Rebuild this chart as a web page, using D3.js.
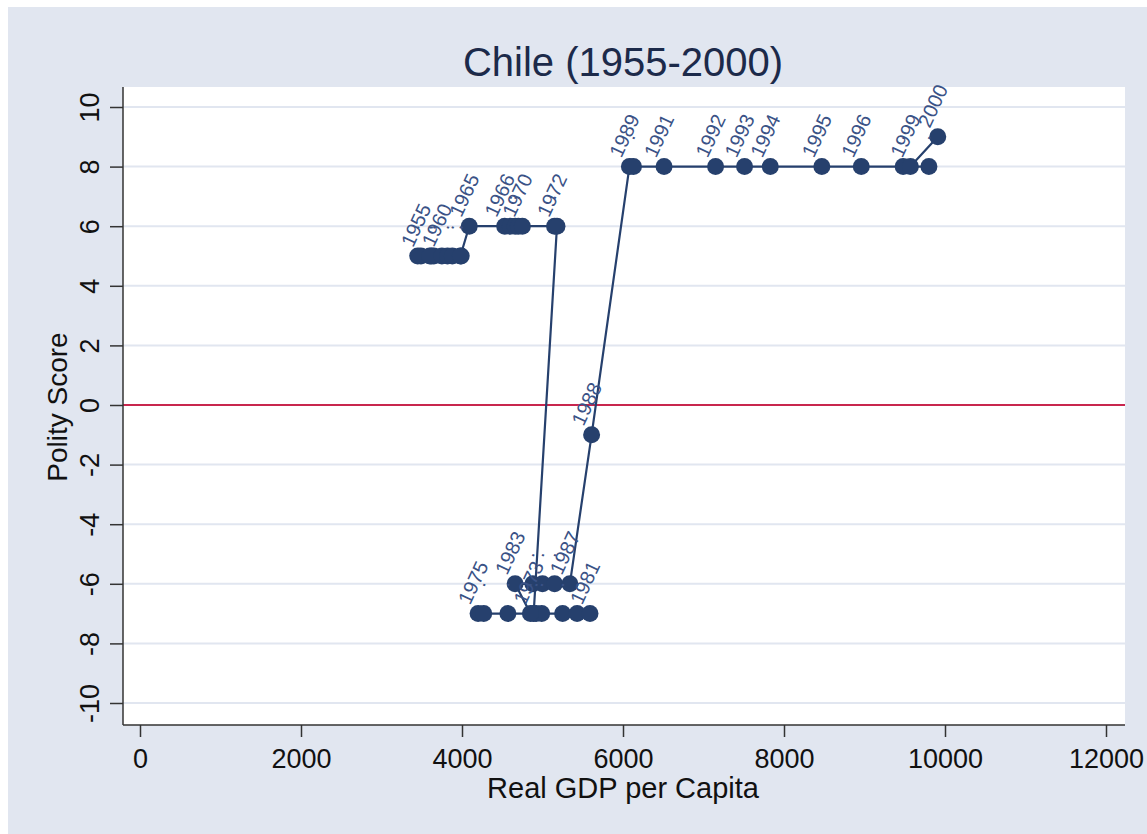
<!DOCTYPE html>
<html>
<head>
<meta charset="utf-8">
<script src="https://cdn.jsdelivr.net/npm/d3@7"></script>
<style>
  html, body { margin: 0; padding: 0; background: #ffffff; }
  svg { display: block; }
  text { font-family: "Liberation Sans", Arial, sans-serif; }
</style>
</head>
<body>
<svg id="chart" width="1147" height="834"></svg>
<script>
// ---- data ----
const years = [1955,1956,1957,1958,1959,1960,1961,1962,1963,1964,
               1965,1966,1967,1968,1969,1970,1971,1972,
               1973,1974,1975,1976,1977,1978,1979,1980,1981,1982,
               1983,1984,1985,1986,1987,1988,
               1989,1990,1991,1992,1993,1994,1995,1996,1997,1998,1999,2000];
const gdp = [3490,3450,3620,3650,3600,3750,3820,3880,3990,3980,
             4090,4530,4600,4660,4700,4750,5150,5180,
             4890,4920,4200,4270,4570,4990,5250,5430,5590,4850,
             4660,4880,5000,5150,5340,5610,
             6080,6130,6510,7150,7510,7830,8470,8960,9480,9800,9570,9910];
const polity = [5,5,5,5,5,5,5,5,5,5,
                6,6,6,6,6,6,6,6,
                -7,-7,-7,-7,-7,-7,-7,-7,-7,-7,
                -6,-6,-6,-6,-6,-1,
                8,8,8,8,8,8,8,8,8,8,8,9];
const pointLabels = ["1955",".",".",".",".","1960",".",".",".",".",
                     "1965","1966",".",".",".","1970",".","1972",
                     "1973",".","1975",".",".",".",".",".","1981",".",
                     "1983",".",".",".","1987","1988",
                     "1989",".","1991","1992","1993","1994","1995","1996",".",".","1999","2000"];
const xTicks = [0,2000,4000,6000,8000,10000,12000];
const yTicks = [-10,-8,-6,-4,-2,0,2,4,6,8,10];
const titleText = "Chile (1955-2000)";
const xTitle = "Real GDP per Capita";
const yTitle = "Polity Score";

const rows = years.map((yr,i) => ({year: yr, gdp: gdp[i], polity: polity[i], label: pointLabels[i]}));

// ---- layout ----
const svg = d3.select("#chart");
const plotL = 123, plotR = 1125, plotT = 87, plotB = 725;
const navy = "#26406d";

svg.append("rect").attr("x",0).attr("y",0).attr("width",1147).attr("height",834).attr("fill","#ffffff");
svg.append("rect").attr("x",8).attr("y",7).attr("width",1139).attr("height",827).attr("fill","#e1e6f0");
svg.append("rect").attr("x",plotL).attr("y",plotT).attr("width",plotR-plotL).attr("height",plotB-plotT).attr("fill","#ffffff");

const x = d3.scaleLinear().domain([0,12000]).range([140,1106]);
const y = d3.scaleLinear().domain([-10,10]).range([703,107]);

// gridlines
svg.append("g").selectAll("line").data(yTicks).join("line")
  .attr("x1",plotL).attr("x2",plotR)
  .attr("y1",d=>y(d)).attr("y2",d=>y(d))
  .attr("stroke","#e1e6f0").attr("stroke-width",2);

// reference line at 0
svg.append("line").attr("x1",plotL).attr("x2",plotR).attr("y1",y(0)).attr("y2",y(0))
  .attr("stroke","#c8264e").attr("stroke-width",2.2);

// axes
const yAxis = svg.append("g").attr("transform",`translate(${plotL},0)`)
  .call(d3.axisLeft(y).tickValues(yTicks).tickSize(13).tickSizeOuter(0).tickFormat(d => String(d)));
yAxis.select(".domain").remove();
yAxis.selectAll(".tick line").attr("stroke","#333").attr("stroke-width",1.5);
yAxis.selectAll(".tick text")
  .attr("x",0).attr("y",-24).attr("dy",0)
  .attr("transform","rotate(-90)")
  .attr("text-anchor","middle")
  .attr("font-size",27).attr("fill","#111")
  .style("font-family","'Liberation Sans', Arial, sans-serif");

const xAxis = svg.append("g").attr("transform",`translate(0,${plotB})`)
  .call(d3.axisBottom(x).tickValues(xTicks).tickSize(12).tickSizeOuter(0).tickFormat(d => String(d)));
xAxis.select(".domain").remove();
xAxis.selectAll(".tick line").attr("stroke","#333").attr("stroke-width",1.5);
xAxis.selectAll(".tick text")
  .attr("y",43).attr("dy",0)
  .attr("font-size",27).attr("fill","#111")
  .style("font-family","'Liberation Sans', Arial, sans-serif");

// axis lines
svg.append("line").attr("x1",plotL).attr("x2",plotL).attr("y1",plotT).attr("y2",plotB)
  .attr("stroke","#333").attr("stroke-width",1.5);
svg.append("line").attr("x1",plotL).attr("x2",plotR).attr("y1",plotB).attr("y2",plotB)
  .attr("stroke","#333").attr("stroke-width",1.5);

// connected line
const line = d3.line().x(d=>x(d.gdp)).y(d=>y(d.polity));
svg.append("path").datum(rows).attr("d",line)
  .attr("fill","none").attr("stroke",navy).attr("stroke-width",2.2).attr("stroke-linejoin","round");

// markers
svg.append("g").selectAll("circle").data(rows).join("circle")
  .attr("cx",d=>x(d.gdp)).attr("cy",d=>y(d.polity)).attr("r",8.5).attr("fill",navy);

// marker labels
svg.append("g").selectAll("text").data(rows).join("text")
  .attr("x",d=>x(d.gdp)-5).attr("y",d=>y(d.polity)-31)
  .attr("transform",d=>`rotate(-65,${x(d.gdp)-5},${y(d.polity)-31})`)
  .attr("text-anchor","middle").attr("dominant-baseline","central")
  .attr("font-size",20).attr("fill","#3a5286")
  .text(d=>d.label);

// titles
svg.append("text").attr("x",623).attr("y",76).attr("text-anchor","middle")
  .attr("font-size",40).attr("fill","#1c2a4a").text(titleText);
svg.append("text").attr("x",623).attr("y",798).attr("text-anchor","middle")
  .attr("font-size",29).attr("fill","#111").text(xTitle);
svg.append("text").attr("transform","translate(67,407) rotate(-90)").attr("text-anchor","middle")
  .attr("font-size",28).attr("fill","#111").text(yTitle);
</script>
</body>
</html>
